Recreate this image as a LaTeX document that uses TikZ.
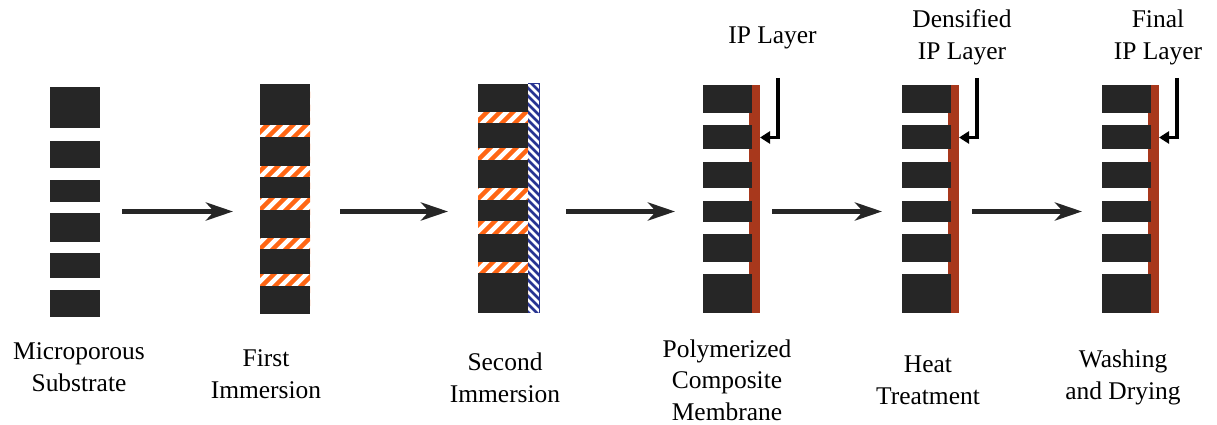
\documentclass[tikz,border=0pt]{standalone}
\usepackage{fontspec}
\setmainfont{LiberationSerif}[Extension=.ttf,UprightFont=*-Regular,BoldFont=*-Bold]
\usetikzlibrary{arrows.meta}
\definecolor{pore}{RGB}{38,38,38}
\definecolor{iplayer}{RGB}{168,56,28}
\definecolor{amine}{RGB}{255,102,20}
\definecolor{acyl}{RGB}{40,52,145}
\begin{document}
\begin{tikzpicture}[x=0.02cm,y=-0.02cm,
		stage/.style={-{Stealth[length=0.54cm,width=0.36cm,inset=0.16cm]},line width=0.1cm,pore},
		pointer/.style={-{Triangle[length=0.2cm,width=0.24cm]},line width=0.065cm,black},
		lbl/.style={align=center,inner sep=0pt,font=\rmfamily\fontsize{14.5}{18}\selectfont}]
		\useasboundingbox (0,0) rectangle (1217,425);
		% microporous substrate
		\foreach \a/\b in {87/128,141/168,180/202,213/242,253/278,290/317}
			\fill[pore] (50,\a) rectangle (100,\b);
		% first immersion
		\begin{scope}
			\clip (260,87) rectangle (310,311);
			\foreach \s in {-240,-227,...,320}
				\draw[amine,line width=0.09cm] (\s,320) -- ++(240,-240);
		\end{scope}
		\foreach \a/\b in {84/125,137/166,177/198,210/238,249/274,286/314}
			\fill[pore] (260,\a) rectangle (310,\b);
		% second immersion
		\begin{scope}
			\clip (478,87) rectangle (528,310);
			\foreach \s in {-20,-7,...,540}
				\draw[amine,line width=0.09cm] (\s,320) -- ++(240,-240);
		\end{scope}
		\begin{scope}
			\clip (528,84) rectangle (539,313);
			\foreach \s in {60,68,...,320}
				\draw[acyl,line width=0.05cm] (524,\s) -- ++(20,20);
		\end{scope}
		\draw[acyl,line width=0.02cm] (528,84) -- (539,84) -- (539,313);
		\foreach \a/\b in {84/112,123/148,160/188,200/221,234/262,273/313}
			\fill[pore] (478,\a) rectangle (528,\b);
		% polymerized, heat treated, washed
		\foreach \x in {703,902,1102} {
			\fill[iplayer] (\x+45.5,85) rectangle (\x+56.5,313);
			\foreach \a/\b in {85/113,125/149,162/188,201/222,234/262,274/313}
				\fill[pore] (\x,\a) rectangle (\x+49,\b);
			\coordinate (top\x) at (\x+75,78);
			\coordinate (tip\x) at (\x+57,137.5);
			\draw[pointer] (top\x) |- (tip\x);
		}
		% process arrows
		\coordinate (s1) at (122,211.5);
		\coordinate (e1) at (233,211.5);
		\coordinate (s2) at (340,211.5);
		\coordinate (e2) at (448,211.5);
		\coordinate (s3) at (566,211.5);
		\coordinate (e3) at (675,211.5);
		\coordinate (s4) at (772,211.5);
		\coordinate (e4) at (882,211.5);
		\coordinate (s5) at (972,211.5);
		\coordinate (e5) at (1082,211.5);
		\foreach \i in {1,...,5}
			\draw[stage] (s\i) -- (e\i);
		% labels
		\node[lbl] (ip) at (772.5,37.5) {IP Layer};
		\node[lbl] (dense) at (962,37.5) {Densified\\IP Layer};
		\node[lbl] (final) at (1158,37.5) {Final\\IP Layer};
		\node[lbl] (lab1) at (79,367.5) {Microporous\\Substrate};
		\node[lbl] (lab2) at (266,374) {First\\Immersion};
		\node[lbl] (lab3) at (505,378) {Second\\Immersion};
		\node[lbl] (lab4) at (727,380) {Polymerized\\Composite\\Membrane};
		\node[lbl] (lab5) at (928,380) {Heat\\Treatment};
		\node[lbl] (lab6) at (1123,377.5) {Washing\\and Drying};
	\end{tikzpicture}
\end{document}
